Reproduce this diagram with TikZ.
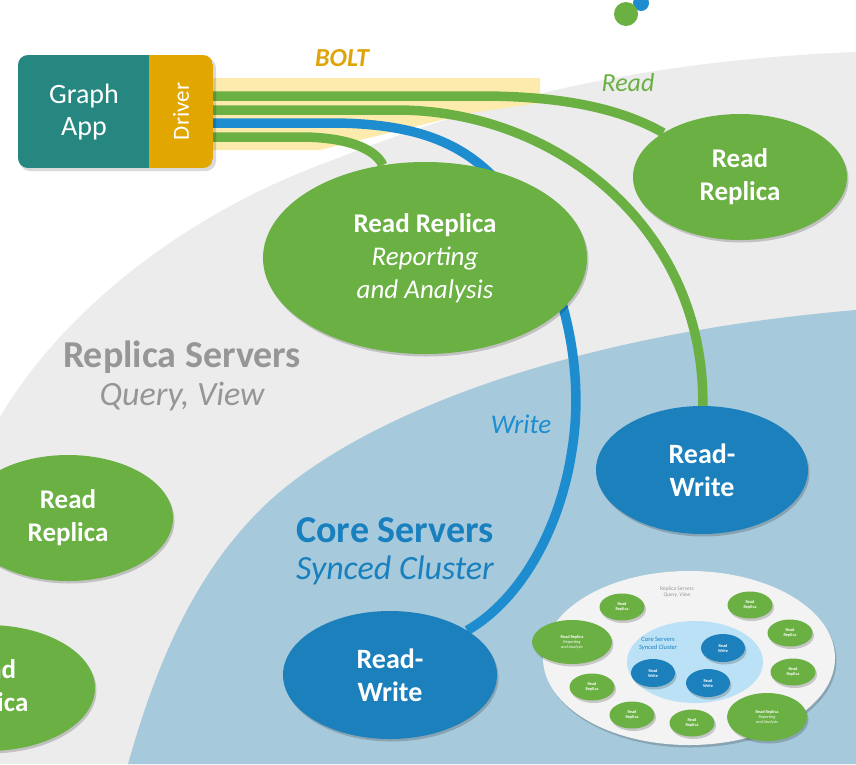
\documentclass[tikz,border=0pt]{standalone}
\usepackage{fontspec}
\setmainfont{Carlito}
\usetikzlibrary{shapes.geometric,calc,shadows}
\definecolor{grn}{RGB}{106,176,66}
\definecolor{rwblue}{RGB}{27,128,188}
\definecolor{lineblue}{RGB}{29,141,207}
\definecolor{corebg}{RGB}{166,201,219}
\definecolor{replbg}{RGB}{236,236,236}
\definecolor{appteal}{RGB}{38,134,128}
\definecolor{drvgold}{RGB}{225,167,0}
\definecolor{boltband}{RGB}{252,235,172}
\definecolor{bolttext}{RGB}{222,165,10}
\definecolor{repltext}{RGB}{150,150,150}
\definecolor{coretext}{RGB}{24,128,190}
\definecolor{miniwhite}{RGB}{243,243,243}
\definecolor{minicore}{RGB}{186,225,245}
\pgfdeclarelayer{bg}
\pgfdeclarelayer{lnk}
\pgfsetlayers{bg,lnk,main}
\begin{document}
\begin{tikzpicture}[x=1pt,y=-1pt,
  shd/.style={drop shadow={shadow xshift=1.5pt,shadow yshift=-2.5pt,opacity=0.18,fill=black}},
  rrnode/.style={ellipse,fill=grn,inner sep=0pt,text=white,align=center,shd,
     font=\fontsize{27}{33}\selectfont\bfseries},
  rwnode/.style={ellipse,fill=rwblue,inner sep=0pt,text=white,align=center,shd,
     font=\fontsize{28}{33}\selectfont\bfseries},
  link/.style={line width=9.5pt,draw=grn},
  wlink/.style={line width=9.5pt,draw=lineblue},
  minirr/.style={ellipse,fill=grn,inner sep=0pt,minimum width=45pt,minimum height=27pt,
     text=white,align=center,font=\fontsize{4.3}{5}\selectfont\bfseries,shd},
  minirw/.style={ellipse,fill=rwblue,inner sep=0pt,minimum width=44pt,minimum height=28pt,
     text=white,align=center,font=\fontsize{4.3}{5}\selectfont\bfseries,shd},
  minirep/.style={ellipse,fill=grn,inner sep=0pt,minimum width=80pt,minimum height=46pt,
     text=white,align=center,font=\fontsize{4.3}{5}\selectfont,shd},
  lbl/.style={inner sep=0pt,align=center}]
\useasboundingbox (0,0) rectangle (856,764);
\begin{pgfonlayer}{bg}
\fill[white] (0,0) rectangle (856,764);
% replica region
\fill[replbg] (0,417) .. controls (60,315) and (180,215) .. (333,160)
   .. controls (440,118) and (600,62) .. (856,52) -- (856,764) -- (0,764) -- cycle;
% core region
\fill[corebg] (128,764) .. controls (160,650) and (200,570) .. (260,510)
   .. controls (350,420) and (560,335) .. (856,310) -- (856,764) -- cycle;
% top partial dots
\fill[lineblue] (641,3) circle (8);
\fill[grn] (626,14) circle (12);
% BOLT band
\fill[boltband] (213,78) -- (540,78) -- (540,103) -- (470,113) -- (360,140) -- (320,150) -- (213,150) -- cycle;
\end{pgfonlayer}
% Graph App + Driver box
\fill[black,opacity=0.15,rounded corners=10pt] (20,58) rectangle (216,171);
\begin{scope}
  \clip[rounded corners=10pt] (18,55) rectangle (213,168);
  \fill[appteal] (18,55) rectangle (149,168);
  \fill[drvgold] (149,55) rectangle (213,168);
\end{scope}
\node[lbl,text=white,font=\fontsize{28}{32}\selectfont] (app) at (84,112) {Graph\\App};
\node[inner sep=0pt,minimum width=64pt,minimum height=113pt,text=white,
      font=\fontsize{23}{26}\selectfont] (drv) at (181,111.5) {\rotatebox{90}{Driver}};
% labels
\node[lbl,text=bolttext,font=\fontsize{26}{30}\selectfont\bfseries\itshape] (bolt) at (342,58) {BOLT};
\node[lbl,text=grn,font=\fontsize{26}{30}\selectfont\itshape] (readlbl) at (628,83) {Read};
\node[lbl,text=repltext,font=\fontsize{38}{40}\selectfont\bfseries] (repl) at (182,357) {Replica Servers};
\node[lbl,text=repltext,font=\fontsize{34}{38}\selectfont\itshape] (replsub) at (182,397) {Query, View};
\node[lbl,text=coretext,font=\fontsize{38}{40}\selectfont\bfseries] (core) at (395,530) {Core Servers};
\node[lbl,text=coretext,font=\fontsize{34}{38}\selectfont\itshape] (coresub) at (395,570) {Synced Cluster};
\node[lbl,text=lineblue,font=\fontsize{27}{30}\selectfont\itshape] (writelbl) at (521,424) {Write};
% server nodes
\node[rrnode,minimum width=214pt,minimum height=126pt] (rrTop) at (740,177) {Read\\Replica};
\node[rrnode,minimum width=324pt,minimum height=192pt] (rrRep) at (425,258)
   {Read Replica\\\mdseries\itshape Reporting\\\mdseries\itshape and Analysis};
\node[rwnode,minimum width=212pt,minimum height=128pt] (rwRight) at (702,470) {Read-\\Write};
\node[rwnode,minimum width=214pt,minimum height=128pt] (rwBottom) at (390,675) {Read-\\Write};
\node[rrnode,minimum width=210pt,minimum height=126pt] (rrLeft) at (68,518) {Read\\Replica};
\node[rrnode,minimum width=214pt,minimum height=126pt] (rrBL) at (-12,688) {Read\\Replica};
% links (behind the nodes)
\begin{pgfonlayer}{lnk}
\draw[link] ($(drv.east)+(0,-15.5)$) -- (480,96) .. controls (560,96) and (620,108) .. (rrTop);
\draw[link] ($(drv.east)+(0,-1.5)$) -- (400,110) .. controls (560,112) and (705,230) .. (rwRight);
\draw[wlink] ($(drv.east)+(0,11.5)$) -- (330,123) .. controls (430,123) and (480,150) .. (520,210)
   .. controls (565,280) and (585,370) .. (572,450) .. controls (560,530) and (520,600) .. (rwBottom);
\draw[link] ($(drv.east)+(0,25.5)$) -- (300,137) .. controls (345,137) and (375,148) .. (rrRep);
\end{pgfonlayer}
% mini overview diagram
\node[ellipse,fill=miniwhite,minimum width=292pt,minimum height=174pt,inner sep=0pt,shd] (mini) at (689,658) {};
\node[ellipse,fill=minicore,minimum width=136pt,minimum height=82pt,inner sep=0pt] (minicoreE) at (695,662) {};
\node[lbl,text=repltext,font=\fontsize{5.5}{6.5}\selectfont] (minirepl) at (677,592) {Replica Servers\\\itshape Query, View};
\node[lbl,text=coretext,font=\fontsize{6.5}{7.5}\selectfont] (minicoreL) at (658,644) {Core Servers\\\itshape Synced Cluster};
\node[minirr] (m1) at (622,607) {Read\\Replica};
\node[minirr] (m2) at (750,605) {Read\\Replica};
\node[minirr] (m3) at (790,633) {Read\\Replica};
\node[minirr] (m4) at (793,672) {Read\\Replica};
\node[minirr] (m5) at (592,687) {Read\\Replica};
\node[minirr] (m6) at (632,715) {Read\\Replica};
\node[minirr] (m7) at (692,723) {Read\\Replica};
\node[minirep,minimum height=44pt] (mr1) at (572,642) {\bfseries Read Replica\\\itshape Reporting\\\itshape and Analysis};
\node[minirep,minimum height=48pt] (mr2) at (767,717) {\bfseries Read Replica\\\itshape Reporting\\\itshape and Analysis};
\node[minirw] (w1) at (723,648) {Read\\Write};
\node[minirw] (w2) at (653,673) {Read\\Write};
\node[minirw] (w3) at (708,683) {Read\\Write};
\end{tikzpicture}
\end{document}
